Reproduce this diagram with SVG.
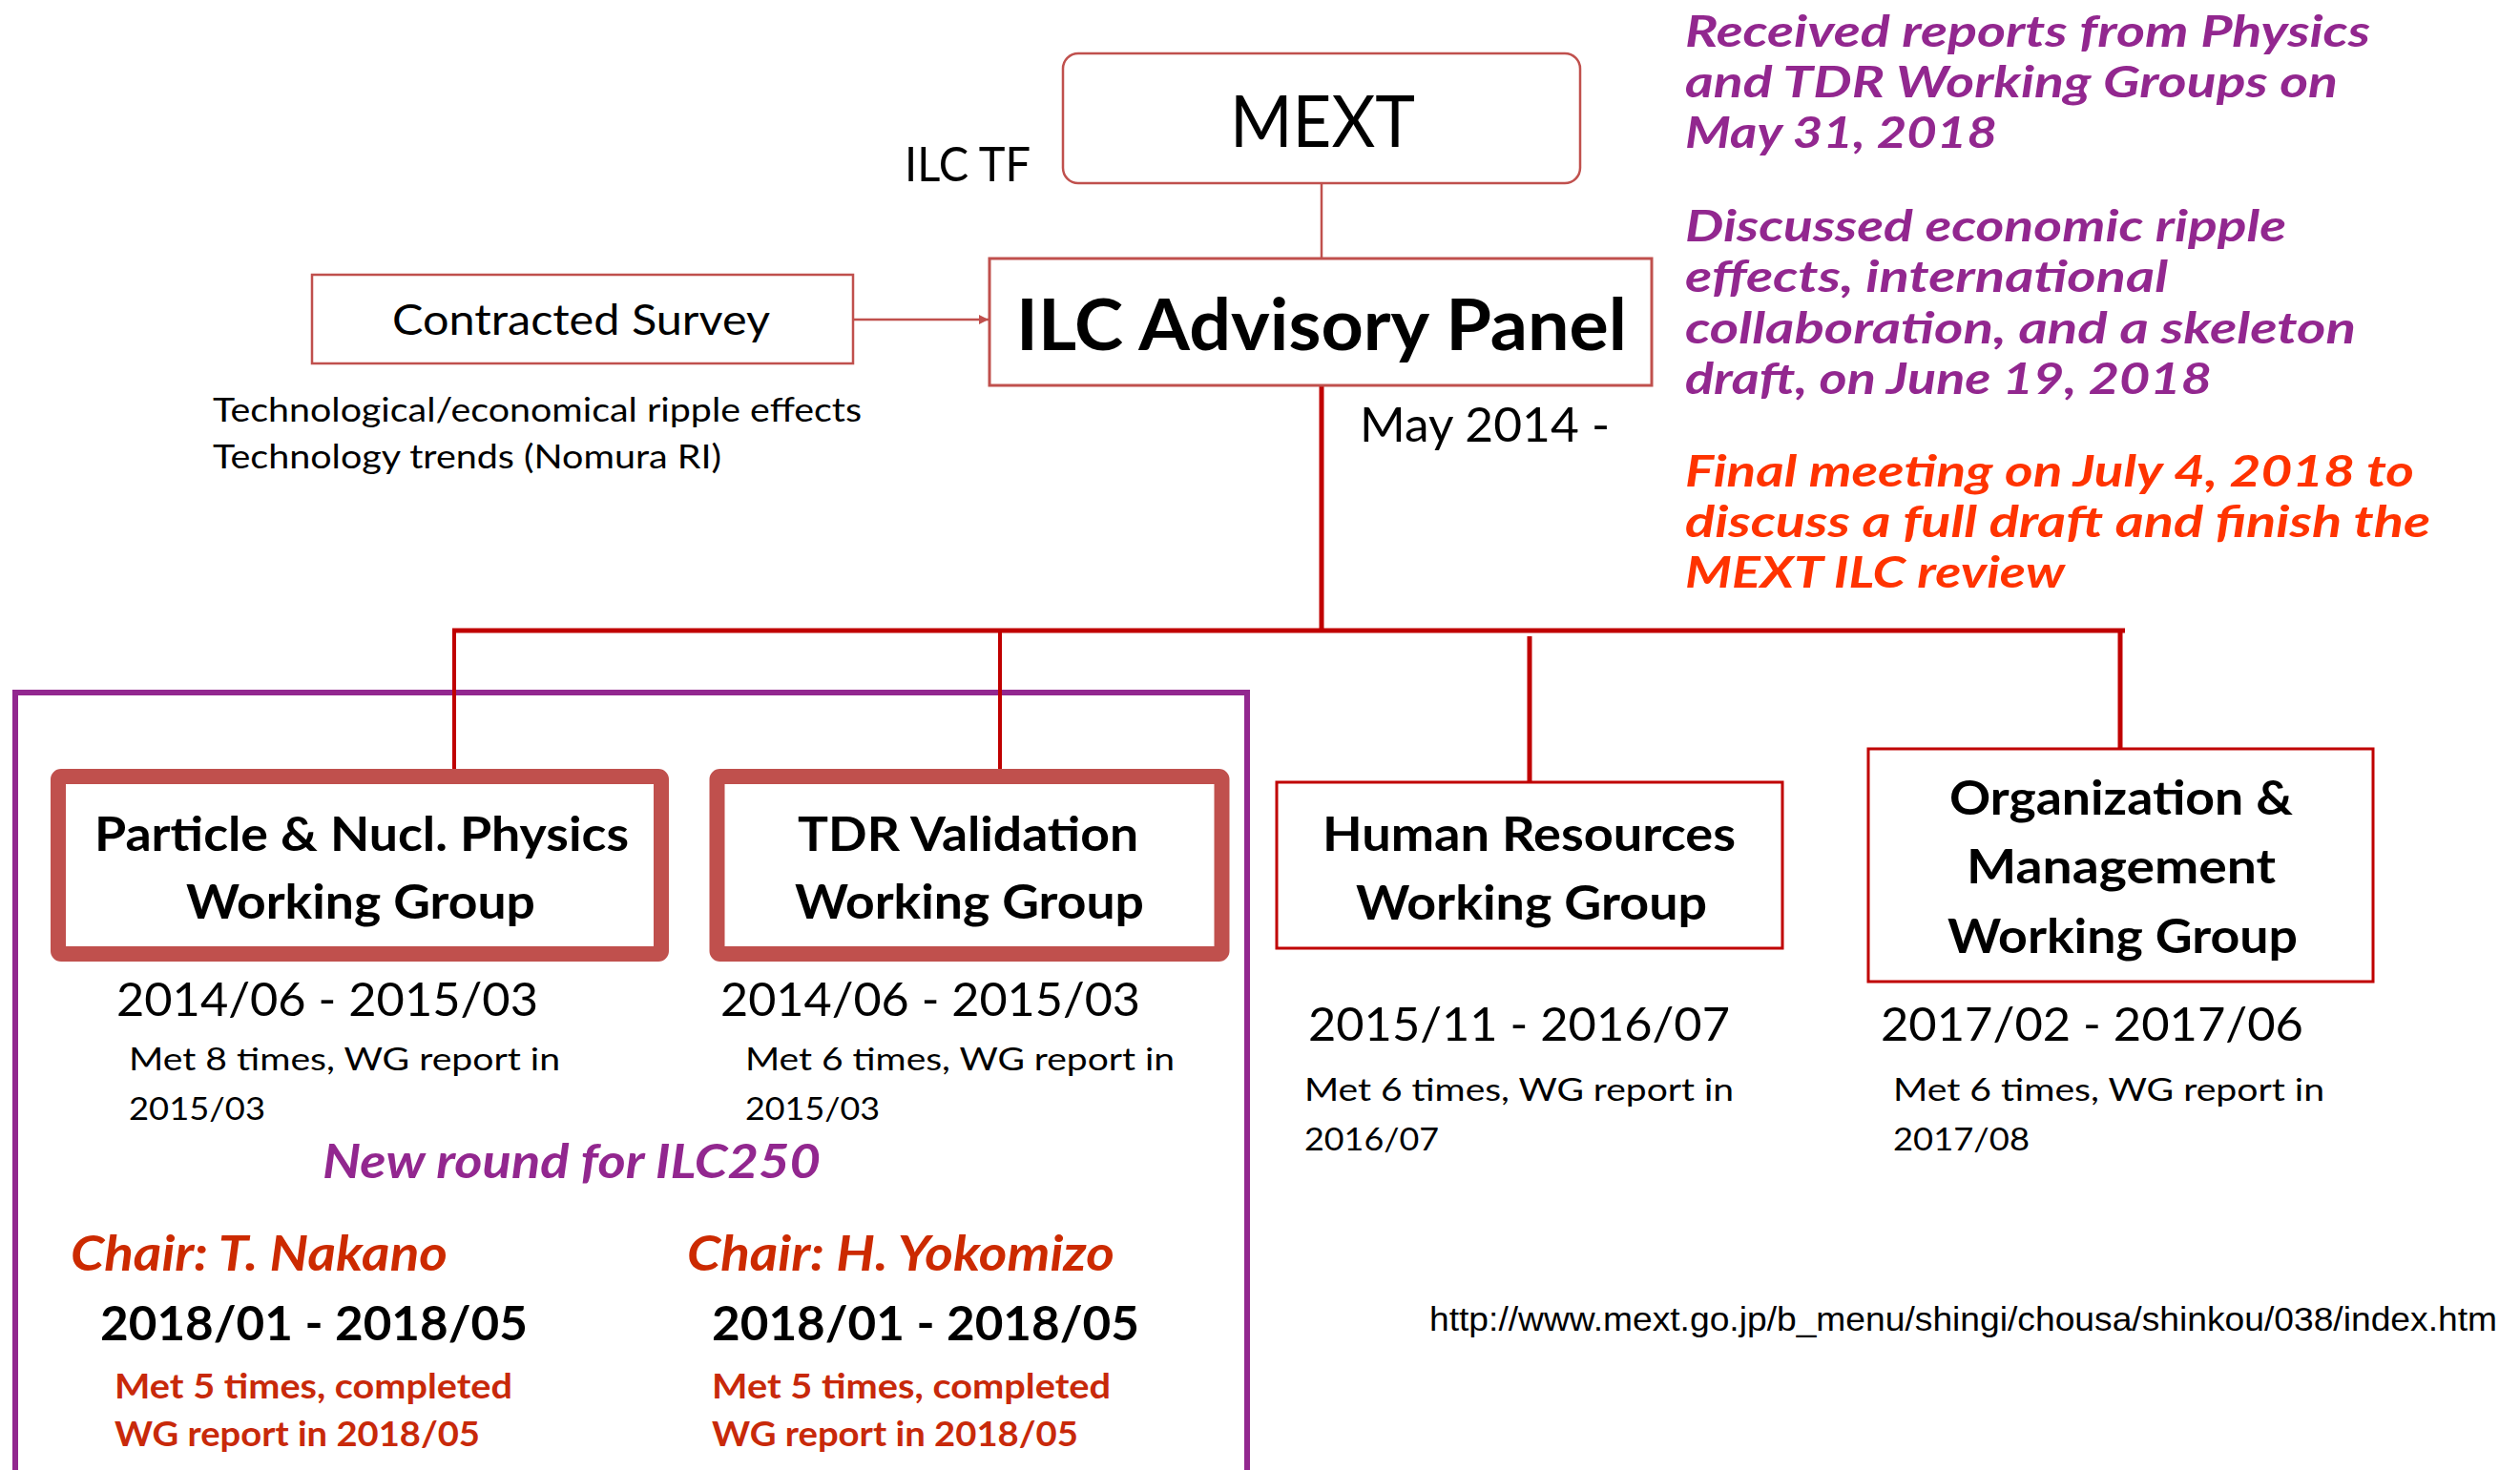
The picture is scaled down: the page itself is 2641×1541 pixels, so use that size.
<svg xmlns="http://www.w3.org/2000/svg" width="2641" height="1541" viewBox="0 0 2641 1541">
<defs>
<style>
text{font-family:Lato,"Open Sans","Noto Sans",sans-serif;fill:#000}
.b{font-weight:bold}
.it{font-style:italic;font-weight:bold}
.pur{fill:#92278f}
.red{fill:#ff3300}
.chair{fill:#cc2a00}
.met5{fill:#c8290a;font-weight:bold;font-size:36px}
.side{font-size:46px}
.wg{font-weight:bold;font-size:49px}
.date{font-size:49px}
.met{font-size:33px}
.thin{fill:#fff;stroke:#c0504d;stroke-width:2.5}
.thick{fill:#fff;stroke:#c0504d;stroke-width:16}
.redbox{fill:#fff;stroke:#c00000;stroke-width:3}
.bus{stroke:#c00000;fill:none}
</style>
<marker id="ah" viewBox="0 0 10 10" refX="10" refY="5" markerWidth="10" markerHeight="10" markerUnits="userSpaceOnUse" orient="auto">
<path d="M0,0 L10,5 L0,10 z" fill="#c0504d"/>
</marker>
</defs>
<rect width="2641" height="1541" fill="#fff"/>

<g id="frame-ilc250">
<rect x="16" y="726" width="1291" height="900" fill="none" stroke="#92278f" stroke-width="6"/>
</g>

<g id="connectors">
<line x1="1385" y1="192" x2="1385" y2="271" stroke="#c0504d" stroke-width="2.5"/>
<line x1="894" y1="335" x2="1036" y2="335" stroke="#c0504d" stroke-width="2.5" marker-end="url(#ah)"/>
<line class="bus" x1="1385" y1="404" x2="1385" y2="663" stroke-width="5"/>
<line class="bus" x1="474" y1="661" x2="2227" y2="661" stroke-width="5"/>
<line class="bus" x1="476" y1="661" x2="476" y2="807" stroke-width="4"/>
<line class="bus" x1="1048" y1="661" x2="1048" y2="807" stroke-width="4"/>
<line class="bus" x1="1603" y1="667" x2="1603" y2="820" stroke-width="5"/>
<line class="bus" x1="2222" y1="661" x2="2222" y2="785" stroke-width="5"/>
</g>

<g id="mext">
<rect class="thin" x="1114" y="56" width="542" height="136" rx="16"/>
<text x="1289" y="154" font-size="75" textLength="194" lengthAdjust="spacingAndGlyphs">MEXT</text>
</g>
<g id="ilc-tf">
<text x="948" y="190" font-size="51" textLength="132" lengthAdjust="spacingAndGlyphs">ILC TF</text>
</g>

<g id="advisory-panel">
<rect x="1037" y="271" width="694" height="133" fill="#fff" stroke="#c0504d" stroke-width="3"/>
<text class="b" x="1065" y="367" font-size="74" textLength="640" lengthAdjust="spacingAndGlyphs">ILC Advisory Panel</text>
<text x="1425" y="463" font-size="51" textLength="262" lengthAdjust="spacingAndGlyphs">May 2014 -</text>
</g>

<g id="contracted-survey">
<rect class="thin" x="327" y="288" width="567" height="93"/>
<text x="411" y="351" font-size="44" textLength="396" lengthAdjust="spacingAndGlyphs">Contracted Survey</text>
<text x="223" y="442" font-size="35" textLength="680" lengthAdjust="spacingAndGlyphs">Technological/economical ripple effects</text>
<text x="223" y="491" font-size="35" textLength="533" lengthAdjust="spacingAndGlyphs">Technology trends (Nomura RI)</text>
</g>

<g id="notes">
<text class="it pur side" x="1766" y="49" textLength="718" lengthAdjust="spacingAndGlyphs">Received reports from Physics</text>
<text class="it pur side" x="1766" y="102" textLength="684" lengthAdjust="spacingAndGlyphs">and TDR Working Groups on</text>
<text class="it pur side" x="1766" y="155" textLength="327" lengthAdjust="spacingAndGlyphs">May 31, 2018</text>
<text class="it pur side" x="1766" y="253" textLength="630" lengthAdjust="spacingAndGlyphs">Discussed economic ripple</text>
<text class="it pur side" x="1766" y="306" textLength="506" lengthAdjust="spacingAndGlyphs">effects, international</text>
<text class="it pur side" x="1766" y="360" textLength="703" lengthAdjust="spacingAndGlyphs">collaboration, and a skeleton</text>
<text class="it pur side" x="1766" y="413" textLength="552" lengthAdjust="spacingAndGlyphs">draft, on June 19, 2018</text>
<text class="it red side" x="1766" y="510" textLength="764" lengthAdjust="spacingAndGlyphs">Final meeting on July 4, 2018 to</text>
<text class="it red side" x="1766" y="563" textLength="781" lengthAdjust="spacingAndGlyphs">discuss a full draft and finish the</text>
<text class="it red side" x="1766" y="616" textLength="398" lengthAdjust="spacingAndGlyphs">MEXT ILC review</text>
</g>

<g id="physics-wg">
<rect class="thick" x="61" y="814" width="632" height="186" rx="3"/>
<text class="wg" x="99" y="892" textLength="560" lengthAdjust="spacingAndGlyphs">Particle &amp; Nucl. Physics</text>
<text class="wg" x="195" y="963" textLength="366" lengthAdjust="spacingAndGlyphs">Working Group</text>
<text class="date" x="122" y="1065" textLength="442" lengthAdjust="spacingAndGlyphs">2014/06 - 2015/03</text>
<text class="met" x="135" y="1122" textLength="452" lengthAdjust="spacingAndGlyphs">Met 8 times, WG report in</text>
<text class="met" x="135" y="1174" textLength="143" lengthAdjust="spacingAndGlyphs">2015/03</text>
<text class="it chair" x="74" y="1332" font-size="51" textLength="395" lengthAdjust="spacingAndGlyphs">Chair: T. Nakano</text>
<text class="b" x="105" y="1405" font-size="50" textLength="448" lengthAdjust="spacingAndGlyphs">2018/01 - 2018/05</text>
<text class="met5" x="120" y="1466" textLength="417" lengthAdjust="spacingAndGlyphs">Met 5 times, completed</text>
<text class="met5" x="120" y="1516" textLength="383" lengthAdjust="spacingAndGlyphs">WG report in 2018/05</text>
</g>

<g id="tdr-wg">
<rect class="thick" x="751.5" y="814" width="529" height="186" rx="3"/>
<text class="wg" x="836" y="892" textLength="357" lengthAdjust="spacingAndGlyphs">TDR Validation</text>
<text class="wg" x="833" y="963" textLength="366" lengthAdjust="spacingAndGlyphs">Working Group</text>
<text class="date" x="755" y="1065" textLength="440" lengthAdjust="spacingAndGlyphs">2014/06 - 2015/03</text>
<text class="met" x="781" y="1122" textLength="450" lengthAdjust="spacingAndGlyphs">Met 6 times, WG report in</text>
<text class="met" x="781" y="1174" textLength="141" lengthAdjust="spacingAndGlyphs">2015/03</text>
<text class="it chair" x="720" y="1332" font-size="51" textLength="448" lengthAdjust="spacingAndGlyphs">Chair: H. Yokomizo</text>
<text class="b" x="746" y="1405" font-size="50" textLength="448" lengthAdjust="spacingAndGlyphs">2018/01 - 2018/05</text>
<text class="met5" x="746" y="1466" textLength="418" lengthAdjust="spacingAndGlyphs">Met 5 times, completed</text>
<text class="met5" x="746" y="1516" textLength="384" lengthAdjust="spacingAndGlyphs">WG report in 2018/05</text>
</g>

<g id="new-round">
<text class="it pur" x="338" y="1235" font-size="49" textLength="522" lengthAdjust="spacingAndGlyphs">New round for ILC250</text>
</g>

<g id="hr-wg">
<rect class="redbox" x="1338" y="820" width="530" height="174"/>
<text class="wg" x="1386" y="892" textLength="433" lengthAdjust="spacingAndGlyphs">Human Resources</text>
<text class="wg" x="1421" y="964" textLength="368" lengthAdjust="spacingAndGlyphs">Working Group</text>
<text class="date" x="1371" y="1091" textLength="442" lengthAdjust="spacingAndGlyphs">2015/11 - 2016/07</text>
<text class="met" x="1367" y="1154" textLength="450" lengthAdjust="spacingAndGlyphs">Met 6 times, WG report in</text>
<text class="met" x="1367" y="1206" textLength="141" lengthAdjust="spacingAndGlyphs">2016/07</text>
</g>

<g id="org-wg">
<rect class="redbox" x="1958" y="785" width="529" height="244"/>
<text class="wg" x="2043" y="854" textLength="360" lengthAdjust="spacingAndGlyphs">Organization &amp;</text>
<text class="wg" x="2061" y="926" textLength="324" lengthAdjust="spacingAndGlyphs">Management</text>
<text class="wg" x="2041" y="999" textLength="367" lengthAdjust="spacingAndGlyphs">Working Group</text>
<text class="date" x="1971" y="1091" textLength="443" lengthAdjust="spacingAndGlyphs">2017/02 - 2017/06</text>
<text class="met" x="1984" y="1154" textLength="452" lengthAdjust="spacingAndGlyphs">Met 6 times, WG report in</text>
<text class="met" x="1984" y="1206" textLength="143" lengthAdjust="spacingAndGlyphs">2017/08</text>
</g>

<g id="url">
<text x="1498" y="1395" font-size="35" style="font-family:'Liberation Sans',Arial,sans-serif" textLength="1119" lengthAdjust="spacingAndGlyphs">http://www.mext.go.jp/b_menu/shingi/chousa/shinkou/038/index.htm</text>
</g>
</svg>
